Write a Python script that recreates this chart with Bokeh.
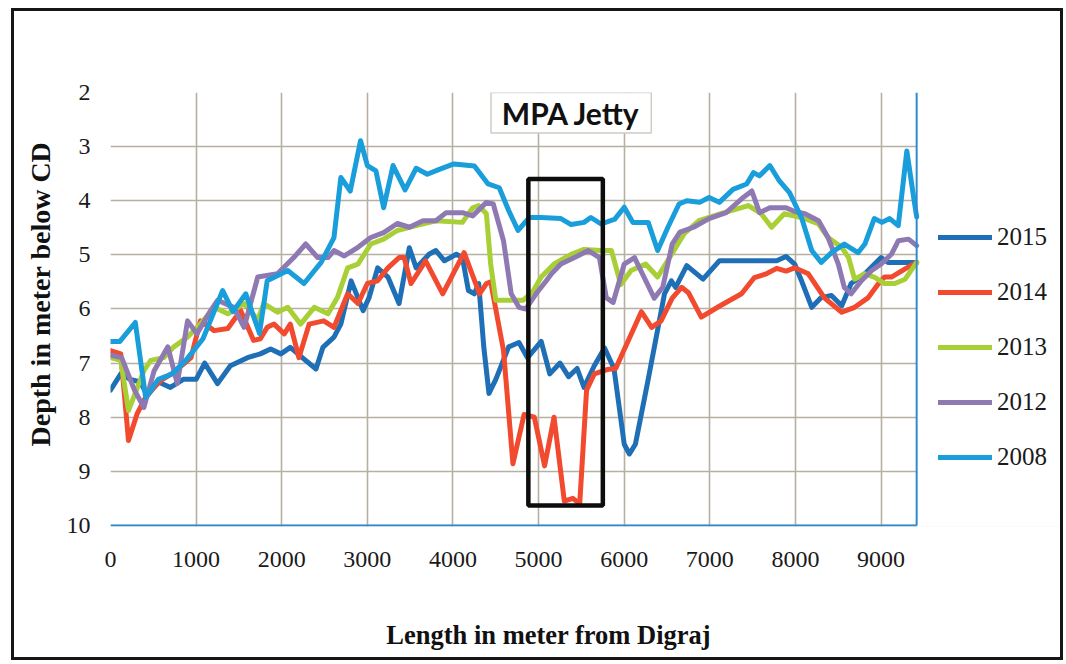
from bokeh.plotting import figure
from bokeh.models import Range1d, Legend, LegendItem, Label, FixedTicker, Title
from bokeh.embed import file_html
from bokeh.resources import INLINE

# ---- data (distance in m from Digraj, depth in m below CD) ----
X_2015 = [0, 120, 230, 350, 430, 560, 700, 850, 1000, 1100, 1250, 1400, 1600, 1750, 1870, 1990, 2100, 2240, 2400, 2480, 2610, 2690, 2810, 2950, 3020, 3120, 3240, 3370, 3490, 3570, 3650, 3720, 3800, 3900, 4040, 4110, 4180, 4250, 4300, 4360, 4420, 4500, 4650, 4770, 4870, 4950, 5030, 5130, 5250, 5350, 5450, 5530, 5650, 5770, 5880, 6000, 6060, 6130, 6280, 6470, 6550, 6600, 6730, 6920, 7110, 7460, 7780, 7890, 7990, 8070, 8190, 8300, 8420, 8540, 8650, 8810, 9000, 9080, 9415]
D_2015 = [7.5, 7.2, 7.3, 7.35, 7.6, 7.35, 7.45, 7.3, 7.3, 7.0, 7.38, 7.05, 6.9, 6.83, 6.74, 6.83, 6.71, 6.9, 7.11, 6.71, 6.52, 6.28, 5.48, 6.03, 5.79, 5.24, 5.41, 5.9, 4.87, 5.24, 5.11, 4.99, 4.92, 5.11, 4.99, 5.05, 5.66, 5.72, 5.53, 6.71, 7.56, 7.3, 6.7, 6.62, 6.9, 6.75, 6.6, 7.2, 7.0, 7.25, 7.1, 7.45, 7.05, 6.72, 7.1, 8.5, 8.68, 8.5, 7.3, 5.72, 5.48, 5.6, 5.2, 5.45, 5.11, 5.11, 5.11, 5.03, 5.17, 5.48, 5.97, 5.79, 5.75, 5.94, 5.53, 5.35, 5.05, 5.14, 5.14]

X_2014 = [0, 120, 210, 310, 430, 590, 740, 940, 1050, 1210, 1370, 1520, 1670, 1750, 1830, 1910, 2030, 2100, 2200, 2320, 2490, 2610, 2770, 2890, 3000, 3120, 3240, 3370, 3430, 3510, 3680, 3880, 4130, 4310, 4390, 4440, 4590, 4700, 4830, 4950, 5070, 5180, 5300, 5400, 5480, 5560, 5650, 5800, 5900, 6000, 6200, 6320, 6430, 6560, 6670, 6750, 6900, 7110, 7370, 7520, 7660, 7780, 7890, 7990, 8150, 8340, 8540, 8690, 8850, 8970, 9040, 9120, 9280, 9415]
D_2014 = [6.77, 6.83, 8.43, 7.94, 7.57, 7.32, 7.17, 6.9, 6.22, 6.4, 6.36, 6.03, 6.58, 6.55, 6.34, 6.28, 6.46, 6.28, 6.9, 6.28, 6.22, 6.34, 5.72, 5.9, 5.53, 5.48, 5.24, 5.05, 5.05, 5.53, 5.11, 5.72, 4.96, 5.72, 5.53, 5.5, 6.77, 8.86, 7.95, 8.0, 8.9, 8.0, 9.55, 9.5, 9.6, 7.5, 7.2, 7.12, 7.1, 6.75, 6.05, 6.34, 6.22, 5.8, 5.6, 5.7, 6.15, 5.95, 5.72, 5.42, 5.35, 5.25, 5.3, 5.24, 5.35, 5.8, 6.06, 5.97, 5.79, 5.53, 5.41, 5.41, 5.26, 5.14]

X_2013 = [0, 120, 210, 390, 470, 620, 740, 900, 1050, 1210, 1370, 1560, 1720, 1790, 1950, 2070, 2220, 2380, 2540, 2650, 2770, 2890, 3040, 3190, 3350, 3570, 3800, 4110, 4230, 4300, 4390, 4440, 4500, 4820, 4940, 5030, 5180, 5380, 5530, 5730, 5850, 5960, 6080, 6250, 6390, 6530, 6700, 6870, 7130, 7450, 7600, 7720, 7870, 8070, 8270, 8380, 8540, 8620, 8690, 8810, 8920, 9040, 9160, 9280, 9415]
D_2013 = [6.9, 6.95, 7.88, 7.14, 6.95, 6.9, 6.7, 6.52, 6.28, 5.97, 6.09, 5.9, 6.2, 5.9, 6.06, 5.97, 6.28, 5.97, 6.09, 5.79, 5.24, 5.17, 4.8, 4.71, 4.55, 4.46, 4.37, 4.4, 4.13, 4.09, 4.24, 5.17, 5.84, 5.84, 5.66, 5.41, 5.17, 4.99, 4.9, 4.92, 4.92, 5.55, 5.29, 5.17, 5.41, 5.05, 4.61, 4.37, 4.24, 4.09, 4.24, 4.49, 4.24, 4.31, 4.43, 4.68, 4.86, 5.05, 5.45, 5.35, 5.41, 5.53, 5.53, 5.45, 5.14]

X_2012 = [0, 130, 280, 390, 510, 670, 780, 900, 1010, 1170, 1250, 1440, 1560, 1720, 1950, 2140, 2280, 2420, 2540, 2610, 2730, 2890, 3040, 3190, 3350, 3490, 3650, 3800, 3920, 4110, 4230, 4390, 4470, 4590, 4680, 4770, 4850, 4970, 5090, 5150, 5260, 5420, 5580, 5710, 5790, 5870, 6000, 6120, 6230, 6350, 6450, 6560, 6650, 6810, 6990, 7190, 7390, 7490, 7580, 7700, 7890, 7990, 8110, 8270, 8380, 8500, 8570, 8650, 8770, 8890, 9000, 9120, 9200, 9320, 9415]
D_2012 = [6.85, 6.9, 7.5, 7.82, 7.14, 6.7, 7.38, 6.22, 6.46, 6.03, 5.84, 5.97, 6.34, 5.41, 5.35, 5.05, 4.8, 5.05, 5.05, 4.92, 5.02, 4.86, 4.68, 4.59, 4.42, 4.49, 4.37, 4.37, 4.22, 4.22, 4.28, 4.03, 4.06, 4.74, 5.72, 5.97, 6.0, 5.72, 5.48, 5.35, 5.17, 5.05, 4.92, 5.05, 5.79, 5.88, 5.17, 5.05, 5.41, 5.8, 5.6, 4.8, 4.58, 4.49, 4.33, 4.22, 3.94, 3.82, 4.22, 4.13, 4.13, 4.2, 4.24, 4.37, 4.68, 5.17, 5.6, 5.72, 5.48, 5.29, 5.17, 4.99, 4.74, 4.71, 4.83]

X_2008 = [0, 110, 290, 410, 560, 720, 880, 1080, 1310, 1430, 1580, 1740, 1830, 2070, 2260, 2460, 2610, 2690, 2800, 2920, 3000, 3100, 3190, 3300, 3440, 3570, 3700, 3840, 4010, 4250, 4410, 4540, 4650, 4760, 4890, 5030, 5260, 5380, 5530, 5610, 5730, 5890, 6000, 6100, 6280, 6390, 6510, 6640, 6730, 6880, 6990, 7110, 7270, 7430, 7510, 7580, 7700, 7810, 7930, 8070, 8190, 8300, 8420, 8570, 8730, 8810, 8920, 9010, 9100, 9200, 9300, 9380, 9415]
D_2008 = [6.6, 6.6, 6.25, 7.63, 7.3, 7.2, 6.95, 6.55, 5.66, 6.05, 5.72, 6.45, 5.48, 5.29, 5.53, 5.14, 4.68, 3.57, 3.82, 2.89, 3.35, 3.45, 4.13, 3.35, 3.8, 3.4, 3.51, 3.42, 3.32, 3.36, 3.69, 3.76, 4.18, 4.55, 4.31, 4.31, 4.33, 4.44, 4.4, 4.31, 4.43, 4.34, 4.12, 4.4, 4.4, 4.92, 4.49, 4.06, 4.0, 4.03, 3.94, 4.03, 3.79, 3.69, 3.48, 3.54, 3.35, 3.63, 3.85, 4.31, 4.92, 5.14, 4.96, 4.8, 4.96, 4.8, 4.33, 4.4, 4.33, 4.46, 3.08, 3.94, 4.3]

YEARS = ["2015", "2014", "2013", "2012", "2008"]
SERIES_X = [X_2015, X_2014, X_2013, X_2012, X_2008]
SERIES_D = [D_2015, D_2014, D_2013, D_2012, D_2008]
COLORS = ["#1f6fb6", "#f14a2e", "#a8cf36", "#8e79b3", "#1a9edb"]

X_TICKS = [0, 1000, 2000, 3000, 4000, 5000, 6000, 7000, 8000, 9000]
Y_TICKS = [2, 3, 4, 5, 6, 7, 8, 9, 10]
X_MAX = 9415                  # end of surveyed length (right edge of plot area)
X_VIEW_END = 11165            # view extends right to hold the legend
DEPTH_TOP, DEPTH_BOTTOM = 2, 10

JETTY_X = (4880, 5750)        # jetty zone (m)
JETTY_D = (3.6, 9.63)         # depth span of the marked zone
LABEL_BOX_X = (4444, 6316)
LABEL_BOX_D = (2.0, 2.75)

SERIF = "Liberation Serif"
AXIS_BLUE = "#2f8bd0"
GRID = "#b7afa2"
NBSP = "\u00a0"

p = figure(width=1052, height=652,
           x_range=Range1d(0, X_VIEW_END), y_range=Range1d(DEPTH_BOTTOM + 0.02, DEPTH_TOP),
           output_backend="svg", toolbar_location=None,
           min_border_left=96, min_border_right=0, min_border_top=81, min_border_bottom=137,
           background_fill_color="white", border_fill_color="white",
           styles={"border": "3px solid #161616", "margin-left": "11px", "margin-top": "8px"})
p.outline_line_color = None

for g in (p.xgrid, p.ygrid):
    g.grid_line_color = GRID
    g.grid_line_width = 1.6
p.xgrid.ticker = FixedTicker(ticks=X_TICKS)
p.ygrid.ticker = FixedTicker(ticks=Y_TICKS)

p.xaxis.ticker = FixedTicker(ticks=X_TICKS)
p.yaxis.ticker = FixedTicker(ticks=Y_TICKS)
for ax in (p.xaxis, p.yaxis):
    ax.major_tick_line_color = None
    ax.minor_tick_line_color = None
    ax.axis_line_color = None
    ax.major_label_text_font = SERIF
    ax.major_label_text_font_size = "24px"
    ax.major_label_text_color = "#1a1a1a"
p.xaxis.major_label_standoff = 19
p.yaxis.major_label_standoff = 14

# x title: centred under the surveyed part (trailing no-break spaces offset it from the view centre)
p.xaxis.axis_label = "Length in meter from Digraj" + NBSP * 12
p.xaxis.axis_label_standoff = 50
p.xaxis.axis_label_text_font = SERIF
p.xaxis.axis_label_text_font_style = "bold"
p.xaxis.axis_label_text_font_size = "26.5px"
p.xaxis.axis_label_text_color = "#111111"

yt = Title(text="Depth in meter below CD", align="left", offset=80, standoff=15,
           text_font=SERIF, text_font_style="bold", text_font_size="28px", text_color="#111111")
p.add_layout(yt, "left")

# blank out grid beyond the surveyed length (legend area)
p.quad(left=[X_MAX], right=[X_VIEW_END + 200], top=[DEPTH_TOP - 1], bottom=[DEPTH_BOTTOM + 1],
       fill_color="white", line_color=None)

# label box "MPA Jetty"
p.quad(left=[LABEL_BOX_X[0]], right=[LABEL_BOX_X[1]], top=[LABEL_BOX_D[0]], bottom=[LABEL_BOX_D[1]],
       fill_color="white", line_color="#d0ccc4", line_width=1.5)
p.add_layout(Label(x=(LABEL_BOX_X[0] + LABEL_BOX_X[1]) / 2, y=(LABEL_BOX_D[0] + LABEL_BOX_D[1]) / 2,
                   text="MPA Jetty", text_font="Lato", text_font_style="bold",
                   text_font_size="30px", text_align="center", text_baseline="middle",
                   text_color="#111111"))

items = []
for yr, xs, ds, c in zip(YEARS, SERIES_X, SERIES_D, COLORS):
    r = p.line(xs, ds, line_color=c, line_width=5, line_join="round", line_cap="round")
    items.append(LegendItem(label=yr, renderers=[r]))

# jetty zone rectangle
p.quad(left=[JETTY_X[0]], right=[JETTY_X[1]], top=[JETTY_D[0]], bottom=[JETTY_D[1]],
       fill_alpha=0, line_color="#0d0d0d", line_width=4.5)

# blue bottom axis line and right edge of plot area
p.segment(x0=[0, X_MAX], y0=[DEPTH_BOTTOM, DEPTH_BOTTOM], x1=[X_MAX, X_MAX], y1=[DEPTH_BOTTOM, DEPTH_TOP],
          line_color=AXIS_BLUE, line_width=2)

legend = Legend(items=items, location=(828, 55), orientation="vertical",
                glyph_width=54, glyph_height=20, label_height=20, label_standoff=5,
                spacing=27, padding=0, margin=0,
                label_text_font=SERIF, label_text_font_size="25px", label_text_color="#1a1a1a",
                border_line_color=None, background_fill_alpha=0)
p.add_layout(legend)

open("out.html", "w").write(file_html(p, INLINE))
